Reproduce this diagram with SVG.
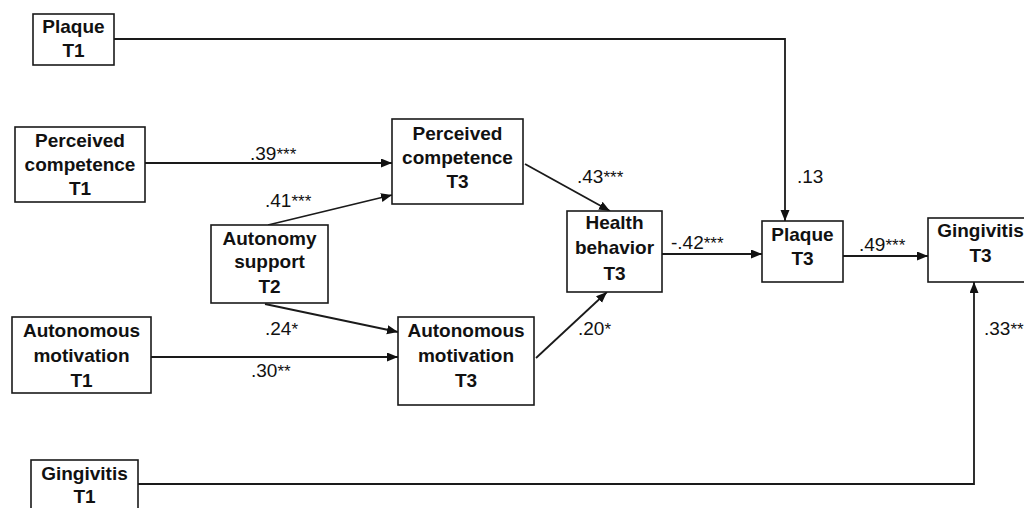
<svg xmlns="http://www.w3.org/2000/svg" width="1024" height="508" viewBox="0 0 1024 508">
  <style>
    .box { fill: #ffffff; stroke: #1a1a1a; stroke-width: 1.6; }
    .node-text { font-family: "Liberation Sans", Arial, sans-serif; font-size: 19px; font-weight: bold; fill: #111; text-anchor: middle; }
    .edge { fill: none; stroke: #1a1a1a; stroke-width: 1.8; }
    .coef { font-family: "Liberation Sans", Arial, sans-serif; font-size: 19px; fill: #111; }
    .sig { font-size: 17px; }
  </style>
  <defs>
    <marker id="arrow" markerUnits="userSpaceOnUse" markerWidth="12" markerHeight="10" refX="11" refY="4.5" orient="auto">
      <path d="M0,0 L11,4.5 L0,9 z" fill="#111"/>
    </marker>
  </defs>
  <rect width="1024" height="508" fill="#ffffff"/>

  <!-- connectors -->
  <g id="connectors">
    <polyline class="edge" points="114,39 785,39 785,221" marker-end="url(#arrow)"/>
    <line class="edge" x1="145" y1="163" x2="392" y2="163" marker-end="url(#arrow)"/>
    <line class="edge" x1="268" y1="225" x2="392" y2="195" marker-end="url(#arrow)"/>
    <line class="edge" x1="265" y1="304" x2="398" y2="332" marker-end="url(#arrow)"/>
    <line class="edge" x1="151" y1="357" x2="398" y2="357" marker-end="url(#arrow)"/>
    <line class="edge" x1="525" y1="164" x2="610" y2="211" marker-end="url(#arrow)"/>
    <line class="edge" x1="536" y1="358" x2="607" y2="292" marker-end="url(#arrow)"/>
    <line class="edge" x1="662" y1="254" x2="762" y2="254" marker-end="url(#arrow)"/>
    <line class="edge" x1="843" y1="256" x2="928" y2="256" marker-end="url(#arrow)"/>
    <polyline class="edge" points="138,484 974,484 974,282" marker-end="url(#arrow)"/>

    <text class="coef" x="250" y="160">.39<tspan class="sig">***</tspan></text>
    <text class="coef" x="265" y="207">.41<tspan class="sig">***</tspan></text>
    <text class="coef" x="577" y="183">.43<tspan class="sig">***</tspan></text>
    <text class="coef" x="265" y="335">.24<tspan class="sig">*</tspan></text>
    <text class="coef" x="251" y="377">.30<tspan class="sig">**</tspan></text>
    <text class="coef" x="578" y="335">.20<tspan class="sig">*</tspan></text>
    <text class="coef" x="671" y="249">-.42<tspan class="sig">***</tspan></text>
    <text class="coef" x="797" y="183">.13</text>
    <text class="coef" x="859" y="251">.49<tspan class="sig">***</tspan></text>
    <text class="coef" x="984" y="335">.33<tspan class="sig">**</tspan></text>
  </g>

  <!-- nodes -->
  <g id="plaque-t1">
    <rect class="box" x="33" y="14" width="81" height="51"/>
    <text class="node-text" x="73.5" y="33">Plaque</text>
    <text class="node-text" x="73.5" y="57">T1</text>
  </g>

  <g id="perceived-competence-t1">
    <rect class="box" x="15" y="127" width="130" height="75"/>
    <text class="node-text" x="80" y="147">Perceived</text>
    <text class="node-text" x="80" y="171">competence</text>
    <text class="node-text" x="80" y="195">T1</text>
  </g>

  <g id="perceived-competence-t3">
    <rect class="box" x="392" y="119" width="131" height="85"/>
    <text class="node-text" x="457.5" y="140">Perceived</text>
    <text class="node-text" x="457.5" y="164">competence</text>
    <text class="node-text" x="457.5" y="188">T3</text>
  </g>

  <g id="autonomy-support-t2">
    <rect class="box" x="211" y="225" width="117" height="78"/>
    <text class="node-text" x="269.5" y="245">Autonomy</text>
    <text class="node-text" x="269.5" y="268">support</text>
    <text class="node-text" x="269.5" y="293">T2</text>
  </g>

  <g id="autonomous-motivation-t1">
    <rect class="box" x="12" y="317" width="139" height="76"/>
    <text class="node-text" x="81.5" y="337">Autonomous</text>
    <text class="node-text" x="81.5" y="362">motivation</text>
    <text class="node-text" x="81.5" y="387">T1</text>
  </g>

  <g id="autonomous-motivation-t3">
    <rect class="box" x="398" y="317" width="136" height="88"/>
    <text class="node-text" x="466" y="337">Autonomous</text>
    <text class="node-text" x="466" y="362">motivation</text>
    <text class="node-text" x="466" y="387">T3</text>
  </g>

  <g id="health-behavior-t3">
    <rect class="box" x="567" y="211" width="95" height="81"/>
    <text class="node-text" x="614.5" y="229">Health</text>
    <text class="node-text" x="614.5" y="254">behavior</text>
    <text class="node-text" x="614.5" y="280">T3</text>
  </g>

  <g id="plaque-t3">
    <rect class="box" x="762" y="221" width="81" height="61"/>
    <text class="node-text" x="802.5" y="241">Plaque</text>
    <text class="node-text" x="802.5" y="265">T3</text>
  </g>

  <g id="gingivitis-t3">
    <rect class="box" x="928" y="218" width="105" height="64"/>
    <text class="node-text" x="980.5" y="237">Gingivitis</text>
    <text class="node-text" x="980.5" y="262">T3</text>
  </g>

  <g id="gingivitis-t1">
    <rect class="box" x="31" y="460" width="107" height="60"/>
    <text class="node-text" x="84.5" y="480">Gingivitis</text>
    <text class="node-text" x="84.5" y="503">T1</text>
  </g>
</svg>
